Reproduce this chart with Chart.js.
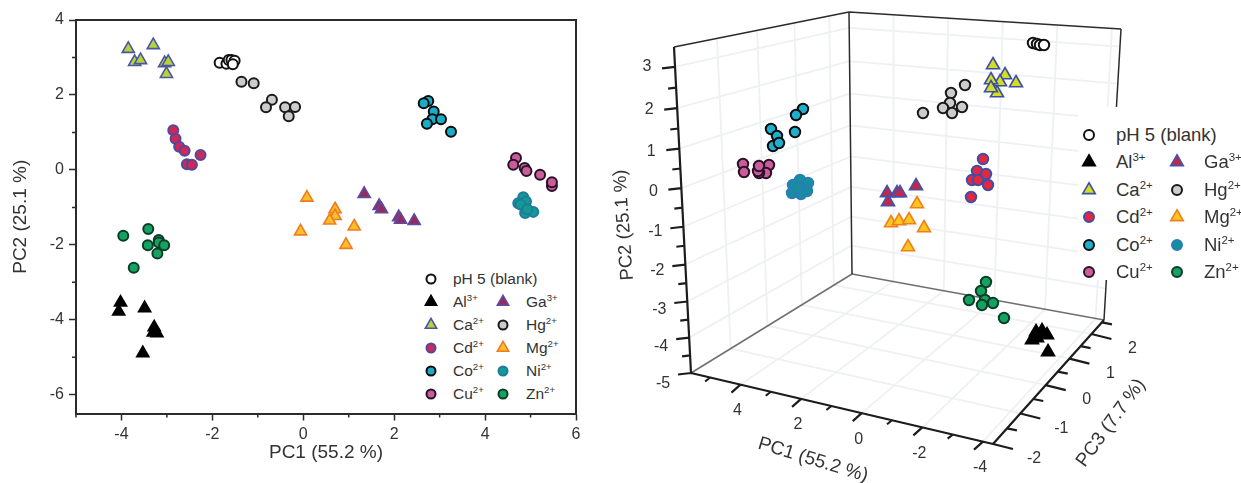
<!DOCTYPE html>
<html>
<head>
<meta charset="utf-8">
<script src="https://cdn.jsdelivr.net/npm/chart.js@4"></script>
<style>
html, body { margin: 0; padding: 0; background: #fff; }
#page { position: relative; width: 1241px; height: 483px; overflow: hidden; font-family: "Liberation Sans", Arial, sans-serif; color: #333; }
canvas { position: absolute; top: 0; }
#left-chart { left: 0; }
#right-chart { left: 610px; }
.legend { position: absolute; background: #fff; }
.legend div { position: absolute; white-space: nowrap; line-height: 1; transform: translateY(-50%); }
.legend svg { position: absolute; overflow: visible; }
.legend sup { font-size: 0.62em; line-height: 0; vertical-align: 0.62em; }
</style>
</head>
<body>
<div id="page">
    <canvas id="left-chart" width="610" height="483"></canvas>
    <canvas id="right-chart" width="631" height="483"></canvas>
    <div id="left-legend" class="legend"></div>
    <div id="right-legend" class="legend"></div>
</div>
<script>
// left panel, [PC1, PC2]
const pcaBlank = [[-1.84, 2.86], [-1.69, 2.83], [-1.64, 2.93], [-1.58, 2.93], [-1.51, 2.91], [-1.55, 2.82]];
const pcaAl = [[-4.02, -3.54], [-4.06, -3.78], [-3.49, -3.69], [-3.28, -4.2], [-3.3, -4.34], [-3.22, -4.36], [-3.53, -4.89]];
const pcaCa = [[-3.85, 3.23], [-3.71, 2.88], [-3.58, 2.93], [-3.3, 3.33], [-3.05, 2.85], [-2.97, 2.88], [-3.01, 2.56]];
const pcaCd = [[-2.86, 1.06], [-2.81, 0.83], [-2.73, 0.62], [-2.61, 0.51], [-2.26, 0.4], [-2.56, 0.15], [-2.45, 0.14]];
const pcaCo = [[2.75, 1.84], [2.65, 1.78], [2.87, 1.56], [2.84, 1.35], [3.03, 1.35], [2.72, 1.23], [3.25, 1.02]];
const pcaCu = [[5.47, -0.43], [4.68, 0.32], [4.62, 0.14], [4.87, 0.05], [4.91, -0.03], [5.21, -0.13], [5.47, -0.33]];
const pcaGa = [[1.34, -0.64], [1.67, -0.96], [1.72, -1.05], [2.1, -1.26], [2.14, -1.33], [2.44, -1.36]];
const pcaHg = [[-1.36, 2.35], [-1.09, 2.31], [-0.69, 1.87], [-0.82, 1.67], [-0.4, 1.67], [-0.18, 1.68], [-0.32, 1.43]];
const pcaMg = [[0.08, -0.74], [-0.06, -1.64], [0.7, -1.05], [0.7, -1.23], [0.58, -1.35], [1.12, -1.51], [0.94, -2.0]];
const pcaNi = [[4.84, -0.73], [4.73, -0.89], [4.9, -0.84], [4.78, -0.92], [4.88, -1.15], [5.06, -1.12], [4.93, -1.05]];
const pcaZn = [[-3.96, -1.76], [-3.41, -1.58], [-3.18, -1.87], [-3.42, -2.01], [-3.18, -1.94], [-3.06, -2.01], [-3.21, -2.23], [-3.73, -2.61]];

// right panel, positions on the projected plane of the 3D view
const viewBlank = [[423, 43], [427, 44], [430, 45], [434, 45]];
const viewAl = [[426, 332], [432, 331], [437, 335], [422, 340], [427, 338], [438, 352]];
const viewCa = [[383, 65], [395, 75], [406, 83], [387, 93], [390, 82], [381, 80], [381, 88]];
const viewCd = [[373, 159], [367, 171], [376, 174], [362, 180], [368, 180], [378, 185], [361, 197]];
const viewCo = [[193, 109], [186, 115], [185, 132], [161, 129], [163, 146], [167, 136], [169, 143]];
const viewCu = [[133, 164], [134, 172], [159, 165], [156, 173], [149, 173], [148, 171], [149, 166]];
const viewGa = [[306, 186], [277, 193], [287, 193], [290, 193], [278, 202]];
const viewHg = [[313, 113], [355, 85], [341, 93], [340, 103], [333, 108], [352, 107], [342, 113]];
const viewMg = [[307, 204], [281, 223], [289, 221], [299, 220], [314, 228], [298, 247]];
const viewNi = [[190, 180], [198, 183], [183, 185], [182, 193], [197, 191], [191, 194], [188, 188]];
const viewZn = [[376, 282], [371, 291], [359, 300], [375, 300], [383, 303], [372, 305], [394, 318]];

// tick labels
const pc1Ticks2d = [-4, -2, 0, 2, 4, 6];
const pc1Minor2d = [-5, -3, -1, 1, 3, 5];
const pc2Ticks2d = [-6, -4, -2, 0, 2, 4];
const pc2Minor2d = [-5, -3, -1, 1, 3];
const pc1Ticks3d = [4, 2, 0, -2, -4];
const pc1Minor3d = [5, 3, 1, -1, -3];
const pc2Ticks3d = [3, 2, 1, 0, -1, -2, -3, -4, -5];
const pc2Minor3d = [2.5, 1.5, 0.5, -0.5, -1.5, -2.5, -3.5, -4.5];
const pc3Ticks3d = [-2, -1, 0, 1, 2];
const pc3Minor3d = [-1.5, -0.5, 0.5, 1.5, 2.5];

const names = ["Al", "Ca", "Cd", "Co", "Cu", "Ga", "Hg", "Mg", "Ni", "Zn"];
const charges = ["3+", "2+", "2+", "2+", "2+", "3+", "2+", "2+", "2+", "2+"];

const FONT = "'Liberation Sans', Arial, sans-serif";
const TEXT = "#333";
const AXIS = "#2b2b2b";

const leftStyle = {
    blank: { shape: "circle", fill: "#ffffff", edge: "#111111" },
    Al: { shape: "triangle", fill: "#000000", edge: "#000000" },
    Ca: { shape: "triangle", fill: "#b7d33a", edge: "#4a55a5" },
    Cd: { shape: "circle", fill: "#cf2757", edge: "#4f4a9c" },
    Co: { shape: "circle", fill: "#19adc6", edge: "#0c0c10" },
    Cu: { shape: "circle", fill: "#c95c9b", edge: "#2a1226" },
    Ga: { shape: "triangle", fill: "#96295f", edge: "#5a4da2" },
    Hg: { shape: "circle", fill: "#cccccc", edge: "#1a1a1a" },
    Mg: { shape: "triangle", fill: "#fbbd2a", edge: "#ee7d22" },
    Ni: { shape: "circle", fill: "#139a94", edge: "#1d7c9a" },
    Zn: { shape: "circle", fill: "#14a35f", edge: "#0b3d2a" },
};
const rightStyle = Object.assign({}, leftStyle, {
    Ca: { shape: "triangle", fill: "#d3de22", edge: "#3c4fa8" },
    Cd: { shape: "circle", fill: "#e5263f", edge: "#3f4ea6" },
    Co: { shape: "circle", fill: "#1cb0cc", edge: "#0c0c10" },
    Ga: { shape: "triangle", fill: "#c4264a", edge: "#4353a8" },
    Mg: { shape: "triangle", fill: "#fcc61a", edge: "#ef7f22" },
    Ni: { shape: "circle", fill: "#15909a", edge: "#2a7cba" },
});

function pointSet(label, rows, style, circleR, triR) {
    return {
        label: label,
        data: rows.map(r => ({ x: r[0], y: r[1] })),
        pointStyle: style.shape,
        pointRadius: style.shape === "circle" ? circleR : triR,
        pointBackgroundColor: style.fill,
        pointBorderColor: style.edge,
        pointBorderWidth: style.shape === "circle" ? 2 : 1.6,
        showLine: false,
        order: 1,
    };
}

// left chart
const boxPlugin = {
    id: "box",
    afterDraw(chart) {
        const { ctx, chartArea: a, scales } = chart;
        ctx.save();
        ctx.strokeStyle = AXIS;
        ctx.lineWidth = 2;
        ctx.beginPath();
        ctx.moveTo(a.left, a.top);
        ctx.lineTo(a.right, a.top);
        ctx.lineTo(a.right, a.bottom);
        ctx.stroke();
        ctx.lineWidth = 1.5;
        ctx.beginPath();
        pc1Minor2d.forEach(v => {
            const px = scales.x.getPixelForValue(v);
            ctx.moveTo(px, a.bottom);
            ctx.lineTo(px, a.bottom + 4);
        });
        pc2Minor2d.forEach(v => {
            const py = scales.y.getPixelForValue(v);
            ctx.moveTo(a.left, py);
            ctx.lineTo(a.left - 4, py);
        });
        ctx.stroke();
        ctx.restore();
    },
};

function fixedTicks(values) {
    return scale => { scale.ticks = values.map(v => ({ value: v })); };
}

new Chart(document.querySelector("#left-chart"), {
    type: "scatter",
    data: {
        datasets: [
            pointSet("pH 5 (blank)", pcaBlank, leftStyle.blank, 5, 7),
            pointSet("Al3+", pcaAl, leftStyle.Al, 5, 7),
            pointSet("Ca2+", pcaCa, leftStyle.Ca, 5, 7),
            pointSet("Cd2+", pcaCd, leftStyle.Cd, 5, 7),
            pointSet("Co2+", pcaCo, leftStyle.Co, 5, 7),
            pointSet("Cu2+", pcaCu, leftStyle.Cu, 5, 7),
            pointSet("Ga3+", pcaGa, leftStyle.Ga, 5, 7),
            pointSet("Hg2+", pcaHg, leftStyle.Hg, 5, 7),
            pointSet("Mg2+", pcaMg, leftStyle.Mg, 5, 7),
            pointSet("Ni2+", pcaNi, leftStyle.Ni, 5, 7),
            pointSet("Zn2+", pcaZn, leftStyle.Zn, 5, 7),
        ],
    },
    options: {
        responsive: false,
        animation: false,
        layout: { autoPadding: false, padding: { top: 20, right: 34, left: 0, bottom: 0 } },
        plugins: { legend: { display: false }, tooltip: { enabled: false } },
        scales: {
            x: {
                type: "linear",
                min: -5,
                max: 6,
                afterBuildTicks: fixedTicks(pc1Ticks2d),
                afterFit: s => { s.height = 69.5; },
                grid: { drawOnChartArea: false, tickLength: 7, tickColor: AXIS, tickWidth: 1.5 },
                border: { color: AXIS, width: 2 },
                ticks: { color: TEXT, font: { family: FONT, size: 16 }, padding: 4, maxRotation: 0, callback: v => String(v) },
                title: { display: true, text: "PC1 (55.2 %)", color: TEXT, font: { family: FONT, size: 19 }, padding: { top: 0, bottom: 18.6 } },
            },
            y: {
                type: "linear",
                min: -6.5,
                max: 4,
                afterBuildTicks: fixedTicks(pc2Ticks2d),
                afterFit: s => { s.width = 76; },
                grid: { drawOnChartArea: false, tickLength: 7, tickColor: AXIS, tickWidth: 1.5 },
                border: { color: AXIS, width: 2 },
                ticks: { color: TEXT, font: { family: FONT, size: 16 }, padding: 5, callback: v => String(v) },
                title: { display: true, text: "PC2 (25.1 %)", color: TEXT, font: { family: FONT, size: 19 }, padding: { top: 9, bottom: 0 } },
            },
        },
    },
    plugins: [boxPlugin],
});

// right chart, the 3D box is projected onto the view plane
const floorA = [81, 373], floorB = [383, 444], floorC = [494, 320], floorD = [242, 274];
const topA = [64, 47], topB = [336, 64], topC = [511, 29], topD = [239, 12];

function warp(t, k) { return t / (t + k * (1 - t)); }
function pc1Frac(v) { return (5.63 - v) / 9.96; }
function pc3Frac(v) { return warp((v + 2) / 4.6, 0.85); }
function pc2Frac(v) { return warp((v + 5) / 8.47, 1.1); }
function mix(p, q, t) { return [p[0] + (q[0] - p[0]) * t, p[1] + (q[1] - p[1]) * t]; }

function project(pc1, pc3, pc2) {
    const a = pc1Frac(pc1), c = pc3Frac(pc3), h = pc2Frac(pc2);
    const low = mix(mix(floorA, floorB, a), mix(floorD, floorC, a), c);
    const high = mix(mix(topA, topB, a), mix(topD, topC, a), c);
    return mix(low, high, h);
}

function segments(pairs) {
    const out = [];
    pairs.forEach(p => {
        out.push({ x: p[0][0], y: p[0][1] }, { x: p[1][0], y: p[1][1] }, { x: NaN, y: NaN });
    });
    return out;
}

function lineSet(label, pairs, color, width, order) {
    return {
        label: label,
        data: segments(pairs),
        showLine: true,
        pointRadius: 0,
        borderColor: color,
        borderWidth: width,
        tension: 0,
        spanGaps: false,
        order: order,
    };
}

const PC1_HI = 5.63, PC1_LO = -4.33, PC3_LO = -2, PC3_HI = 2.6, PC2_LO = -5, PC2_HI = 3.47;
const gridPairs = [];
pc3Ticks3d.slice(1).forEach(v => {
    gridPairs.push([project(PC1_HI, v, PC2_LO), project(PC1_HI, v, PC2_HI)]); // left wall
    gridPairs.push([project(PC1_HI, v, PC2_LO), project(PC1_LO, v, PC2_LO)]); // floor
});
pc1Ticks3d.forEach(v => {
    gridPairs.push([project(v, PC3_HI, PC2_LO), project(v, PC3_HI, PC2_HI)]); // back wall
    gridPairs.push([project(v, PC3_LO, PC2_LO), project(v, PC3_HI, PC2_LO)]); // floor
});
pc2Ticks3d.slice(0, -1).forEach(v => {
    gridPairs.push([project(PC1_HI, PC3_LO, v), project(PC1_HI, PC3_HI, v)]);
    gridPairs.push([project(PC1_HI, PC3_HI, v), project(PC1_LO, PC3_HI, v)]);
});

const floorBack = [[floorA, floorD], [floorD, floorC]];
const boxTop = [[topA, topD], [topD, topC], [topC, floorC], [topD, floorD]];
const axisPairs = [[topA, floorA], [floorA, floorB], [floorB, floorC]];

function tickPair(p, dx, dy) { return [p, [p[0] + dx, p[1] + dy]]; }
pc2Ticks3d.forEach(v => axisPairs.push(tickPair(project(PC1_HI, PC3_LO, v), -13, 1.5)));
pc2Minor3d.forEach(v => axisPairs.push(tickPair(project(PC1_HI, PC3_LO, v), -8, 1)));
pc1Ticks3d.forEach(v => axisPairs.push(tickPair(project(v, PC3_LO, PC2_LO), -9, 8)));
pc1Minor3d.forEach(v => axisPairs.push(tickPair(project(v, PC3_LO, PC2_LO), -5, 4)));
pc3Ticks3d.forEach(v => axisPairs.push(tickPair(project(PC1_LO, v, PC2_LO), 20, 5)));
pc3Minor3d.forEach(v => axisPairs.push(tickPair(project(PC1_LO, v, PC2_LO), 10, 2)));

function drawText(chart, text, x, y, size, angle) {
    const { ctx, scales } = chart;
    ctx.save();
    ctx.translate(scales.x.getPixelForValue(x), scales.y.getPixelForValue(y));
    ctx.rotate(angle * Math.PI / 180);
    ctx.font = size + "px " + FONT;
    ctx.fillStyle = TEXT;
    ctx.textAlign = "center";
    ctx.textBaseline = "middle";
    ctx.fillText(text, 0, 0);
    ctx.restore();
}

const axisTextPlugin = {
    id: "axisText",
    afterDraw(chart) {
        pc2Ticks3d.forEach(v => {
            const p = project(PC1_HI, PC3_LO, v);
            drawText(chart, String(v), p[0] - 28, p[1] + (3 - v) * 1.3, 16, 0);
        });
        pc1Ticks3d.forEach(v => {
            const p = project(v, PC3_LO, PC2_LO);
            drawText(chart, String(v), p[0] - 3, p[1] + 26, 16, 0);
        });
        pc3Ticks3d.forEach(v => {
            const p = project(PC1_LO, v, PC2_LO);
            drawText(chart, String(v), p[0] + 41, p[1] + 15, 16, 0);
        });
        drawText(chart, "PC2 (25.1 %)", 14, 225, 18.5, -94);
        drawText(chart, "PC1 (55.2 %)", 203, 460, 19, 17);
        drawText(chart, "PC3 (7.7 %)", 501, 423, 19, -54);
    },
};

new Chart(document.querySelector("#right-chart"), {
    type: "scatter",
    data: {
        datasets: [
            pointSet("pH 5 (blank)", viewBlank, rightStyle.blank, 5.2, 7.5),
            pointSet("Al3+", viewAl, rightStyle.Al, 5.2, 7.5),
            pointSet("Ca2+", viewCa, rightStyle.Ca, 5.2, 7.5),
            pointSet("Cd2+", viewCd, rightStyle.Cd, 5.2, 7.5),
            pointSet("Co2+", viewCo, rightStyle.Co, 5.2, 7.5),
            pointSet("Cu2+", viewCu, rightStyle.Cu, 5.2, 7.5),
            pointSet("Ga3+", viewGa, rightStyle.Ga, 5.2, 7.5),
            pointSet("Hg2+", viewHg, rightStyle.Hg, 5.2, 7.5),
            pointSet("Mg2+", viewMg, rightStyle.Mg, 5.2, 7.5),
            pointSet("Ni2+", viewNi, rightStyle.Ni, 5.2, 7.5),
            pointSet("Zn2+", viewZn, rightStyle.Zn, 5.2, 7.5),
            lineSet("axes", axisPairs, "#1c1c1c", 2.2, 2),
            lineSet("box", boxTop, "#2b2b2b", 1.5, 3),
            lineSet("floor", floorBack, "#6f6f6f", 1.5, 4),
            lineSet("grid", gridPairs, "#eef0f3", 1.8, 5),
        ],
    },
    options: {
        responsive: false,
        animation: false,
        layout: { autoPadding: false, padding: 0 },
        plugins: { legend: { display: false }, tooltip: { enabled: false } },
        scales: {
            x: { type: "linear", display: false, min: 0, max: 631 },
            y: { type: "linear", display: false, min: 0, max: 483, reverse: true },
        },
    },
    plugins: [axisTextPlugin],
});

// legends, html so the charges can be real superscripts
function marker(style, x, y, size) {
    const svg = document.createElementNS("http://www.w3.org/2000/svg", "svg");
    svg.setAttribute("width", 20);
    svg.setAttribute("height", 20);
    svg.style.left = (x - 10) + "px";
    svg.style.top = (y - 10) + "px";
    let el;
    if (style.shape === "circle") {
        el = document.createElementNS("http://www.w3.org/2000/svg", "circle");
        el.setAttribute("cx", 10);
        el.setAttribute("cy", 10);
        el.setAttribute("r", size);
    } else {
        const r = size * 1.45;
        el = document.createElementNS("http://www.w3.org/2000/svg", "polygon");
        el.setAttribute("points", `10,${10 - r} ${10 + r * 0.866},${10 + r / 2} ${10 - r * 0.866},${10 + r / 2}`);
    }
    el.setAttribute("fill", style.fill);
    el.setAttribute("stroke", style.edge);
    el.setAttribute("stroke-width", style.shape === "circle" ? 2 : 1.6);
    svg.appendChild(el);
    return svg;
}

function buildLegend(id, box, style, layout) {
    const root = document.querySelector(id);
    root.style.left = box.left + "px";
    root.style.top = box.top + "px";
    root.style.width = box.width + "px";
    root.style.height = box.height + "px";
    const add = (key, html, col, row) => {
        const x = layout.markerX[col], y = layout.firstY + row * layout.rowGap;
        root.appendChild(marker(style[key], x - box.left, y - box.top, layout.size));
        const label = document.createElement("div");
        label.innerHTML = html;
        label.style.left = (layout.textX[col] - box.left) + "px";
        label.style.top = (y - box.top) + "px";
        label.style.fontSize = layout.font + "px";
        root.appendChild(label);
    };
    add("blank", "pH 5 (blank)", 0, 0);
    names.forEach((n, i) => {
        const col = i < 5 ? 0 : 1;
        const row = i < 5 ? i + 1 : i - 4;
        add(n, `${n}<sup>${charges[i]}</sup>`, col, row);
    });
}

buildLegend("#left-legend", { left: 420, top: 268, width: 150, height: 140 }, leftStyle,
    { markerX: [431, 503], textX: [453, 526], firstY: 279, rowGap: 23, font: 15.5, size: 4.5 });
buildLegend("#right-legend", { left: 1078, top: 107, width: 163, height: 173 }, rightStyle,
    { markerX: [1089, 1177], textX: [1116, 1204], firstY: 135, rowGap: 27.4, font: 18.5, size: 5 });
</script>
</body>
</html>
